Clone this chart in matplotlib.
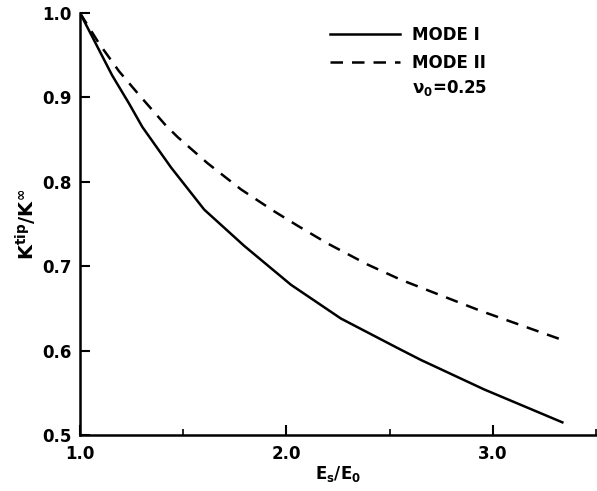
import numpy as np
import matplotlib
matplotlib.use("Agg")
import matplotlib.pyplot as plt

# values
mode_1_x = [1.0, 1.156, 1.237, 1.302, 1.441, 1.602, 1.796, 2.022, 2.264, 2.539, 2.651, 2.958, 3.337]
mode_1_y = [1.0, 0.926, 0.893, 0.865, 0.817, 0.767, 0.724, 0.678, 0.638, 0.603, 0.589, 0.554, 0.515]
mode_2_x = [1.0, 1.092, 1.189, 1.286, 1.415, 1.473, 1.618, 1.780, 1.941, 2.054,
            2.199, 2.393, 2.554, 2.732, 2.942, 3.321]
mode_2_y = [1.0, 0.964, 0.931, 0.903, 0.867, 0.853, 0.822, 0.791, 0.765, 0.748,
            0.727, 0.702, 0.684, 0.667, 0.647, 0.614]

x_ticks = [1.0, 2.0, 3.0]
x_minor = [1.5, 2.5, 3.5]
y_ticks = [0.5, 0.6, 0.7, 0.8, 0.9, 1.0]

plt.rcParams['font.family'] = ['DejaVu Sans']
plt.rcParams['font.weight'] = 'bold'

fig = plt.figure(figsize=(5.97, 4.91), dpi=100)
ax = fig.add_axes([80 / 597, 1 - 435 / 491, 516 / 597, 422 / 491])

ax.plot(mode_1_x, mode_1_y, color='black', lw=1.8, label='MODE I')
ax.plot(mode_2_x, mode_2_y, color='black', lw=1.8, ls=(0, (5, 3.6)), label='MODE II')

ax.set_xlim(1.0, 3.5)
ax.set_ylim(0.5, 1.0)
ax.spines['top'].set_visible(False)
ax.spines['right'].set_visible(False)
ax.spines['left'].set_linewidth(1.8)
ax.spines['bottom'].set_linewidth(1.8)

ax.set_xticks(x_ticks)
ax.set_xticklabels(['1.0', '2.0', '3.0'])
ax.set_xticks(x_minor, minor=True)
ax.set_yticks(y_ticks)
ax.set_yticklabels(['0.5', '0.6', '0.7', '0.8', '0.9', '1.0'])
ax.tick_params(axis='both', which='major', direction='in', length=7, width=1.5,
               labelsize=12)
ax.tick_params(axis='x', which='major', pad=7)
ax.tick_params(axis='y', which='major', pad=6)
ax.tick_params(axis='x', which='minor', direction='in', length=4, width=1.2)

ax.set_xlabel(r'$\mathbf{E_s/E_0}$', fontsize=12, labelpad=1)
ax.set_ylabel(r'$\mathbf{K^{tip}/K^{\infty}}$', fontsize=14, labelpad=2)

leg = ax.legend(loc='upper left', bbox_to_anchor=(330 / 597, 1 - 26 / 491),
                bbox_transform=fig.transFigure, frameon=False, fontsize=12,
                handlelength=4.2, handletextpad=0.7, labelspacing=0.6,
                borderpad=0, borderaxespad=0)
ax.text(412 / 597, 1 - 88 / 491, r'$\mathbf{\nu_0}$=0.25', transform=fig.transFigure,
        fontsize=12, va='center', ha='left')

fig.savefig('out.png', dpi=100)
